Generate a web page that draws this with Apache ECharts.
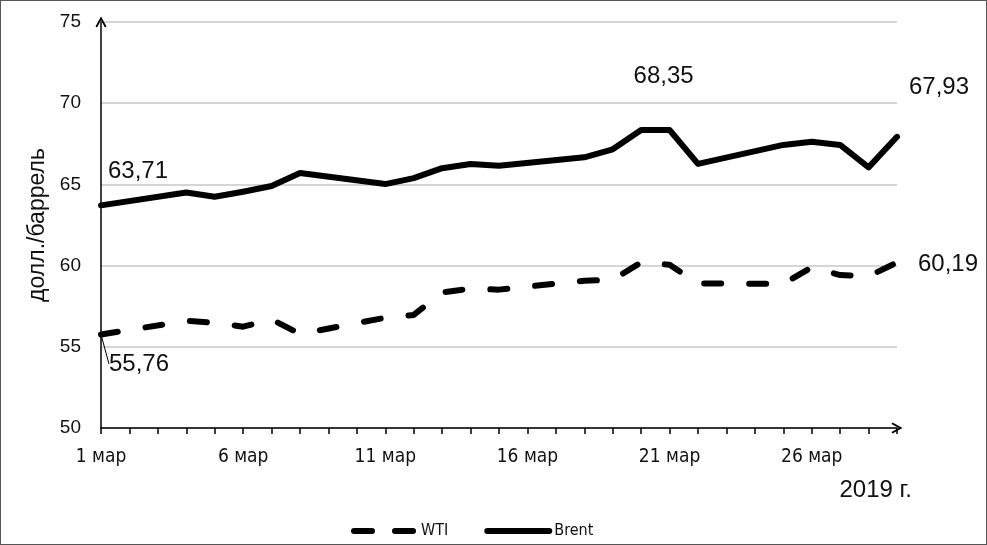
<!DOCTYPE html>
<html>
<head>
<meta charset="utf-8">
<script src="https://cdn.jsdelivr.net/npm/echarts@6/dist/echarts.min.js"></script>
<style>
  html, body { margin: 0; padding: 0; background: #fff; }
  #wrap { position: relative; width: 987px; height: 545px; box-sizing: border-box; border: 1px solid #555; }
  #chart { position: absolute; left: 0; top: 0; width: 985px; height: 543px; }
</style>
</head>
<body>
<div id="wrap"><div id="chart"></div></div>
<script>
// Days of March 2019 (category axis), weekends are null
const days = ['1 мар','2 мар','3 мар','4 мар','5 мар','6 мар','7 мар','8 мар','9 мар','10 мар',
  '11 мар','12 мар','13 мар','14 мар','15 мар','16 мар','17 мар','18 мар','19 мар','20 мар',
  '21 мар','22 мар','23 мар','24 мар','25 мар','26 мар','27 мар','28 мар','29 мар'];
const brent = [63.71, null, null, 64.50, 64.24, 64.55, 64.90, 65.70, null, null,
  65.02, 65.39, 66.00, 66.26, 66.15, null, null, 66.67, 67.16, 68.35,
  68.35, 66.26, null, null, 67.43, 67.63, 67.43, 66.05, 67.93];
const wti = [55.76, null, null, 56.60, 56.48, 56.24, 56.69, 55.79, null, null,
  56.79, 56.96, 58.35, 58.58, 58.52, null, null, 59.07, 59.12, 60.20,
  60.05, 58.90, null, null, 58.87, 59.90, 59.42, 59.35, 60.19];
const yTicks = [50, 55, 60, 65, 70, 75];
const labelledBrent = [0, 20, 28];
const labelledWti = [0, 28];

const fmt = v => v.toFixed(2).replace('.', ',');
const condensed = "'Liberation Sans Narrow', 'DejaVu Sans Condensed', sans-serif";
const arial = "Arial, 'Liberation Sans', sans-serif";
const chevron = 'path://M5,0 L10,9 L8.6,10 L5,3.4 L1.4,10 L0,9 Z';

// label shifts (dx, dy) from default 'top' placement
const shifts = {
  '0-0': [38, 47], '0-28': [51, 19],
  '1-0': [37, -16], '1-20': [-6, -36], '1-28': [42, -32]
};

function build(values, labelled, withLine) {
  return values.map((v, i) => {
    if (v === null) return null;
    if (labelled.indexOf(i) >= 0) {
      const item = { value: v, label: { show: true } };
      if (withLine && i === 0) item.labelLine = { show: true };
      return item;
    }
    return v;
  });
}

const chart = echarts.init(document.getElementById('chart'));
chart.setOption({
  animation: false,
  grid: { left: 100, right: 89, top: 21, bottom: 116 },
  legend: {
    left: 345, top: 517,
    itemWidth: 62, itemHeight: 14, itemGap: 36,
    itemStyle: { color: 'rgba(0,0,0,0)', borderWidth: 0 },
    textStyle: { fontFamily: condensed, fontSize: 16, color: '#111' },
    data: [
      { name: 'WTI', lineStyle: { width: 6, type: [18, 23], cap: 'round', color: '#000' } },
      { name: 'Brent', lineStyle: { width: 6, cap: 'round', color: '#000' } }
    ]
  },
  xAxis: {
    type: 'category', data: days, boundaryGap: false,
    axisLine: { lineStyle: { color: '#000', width: 1.5 }, symbol: ['none', chevron], symbolSize: [11, 12] },
    axisTick: { show: true, interval: 0, length: 6, lineStyle: { color: '#000', width: 1.5 } },
    axisLabel: { interval: 4, margin: 20, fontFamily: condensed, fontSize: 19, color: '#111' },
    splitLine: { show: false }
  },
  yAxis: {
    type: 'value', min: yTicks[0], max: yTicks[yTicks.length - 1], interval: 5,
    name: 'долл./баррель', nameLocation: 'middle', nameGap: 50, nameRotate: 90,
    nameTextStyle: { fontFamily: arial, fontSize: 23, color: '#111' },
    axisLine: { show: true, lineStyle: { color: '#000', width: 1.5 }, symbol: ['none', chevron], symbolSize: [11, 12] },
    axisTick: { show: false },
    axisLabel: { margin: 20, fontFamily: arial, fontSize: 19, color: '#111' },
    splitLine: { lineStyle: { color: '#c8c8c8', width: 1.5 } }
  },
  graphic: [{
    type: 'text', right: 74, top: 477,
    style: { text: '2019 г.', fontFamily: arial, fontSize: 24, fill: '#111' }
  }],
  series: [
    {
      name: 'WTI', type: 'line', data: build(wti, labelledWti, true), connectNulls: true,
      symbol: 'circle', symbolSize: 1, showSymbol: true, showAllSymbol: true, z: 3,
      lineStyle: { color: '#000', width: 6, type: [17, 28], cap: 'round', join: 'round' },
      itemStyle: { color: 'rgba(0,0,0,0)' },
      label: { show: false, position: 'top', formatter: p => fmt(p.value), fontFamily: arial, fontSize: 24, color: '#111' },
      labelLine: { show: false, lineStyle: { color: '#000', width: 1 } },
      labelLayout: p => { const s = shifts['0-' + p.dataIndex]; return s ? { dx: s[0], dy: s[1] } : {}; }
    },
    {
      name: 'Brent', type: 'line', data: build(brent, labelledBrent, false), connectNulls: true,
      symbol: 'circle', symbolSize: 1, showSymbol: true, showAllSymbol: true, z: 4,
      lineStyle: { color: '#000', width: 6, cap: 'round', join: 'round' },
      itemStyle: { color: 'rgba(0,0,0,0)' },
      label: { show: false, position: 'top', formatter: p => fmt(p.value), fontFamily: arial, fontSize: 24, color: '#111' },
      labelLayout: p => { const s = shifts['1-' + p.dataIndex]; return s ? { dx: s[0], dy: s[1] } : {}; }
    }
  ]
});
</script>
</body>
</html>
